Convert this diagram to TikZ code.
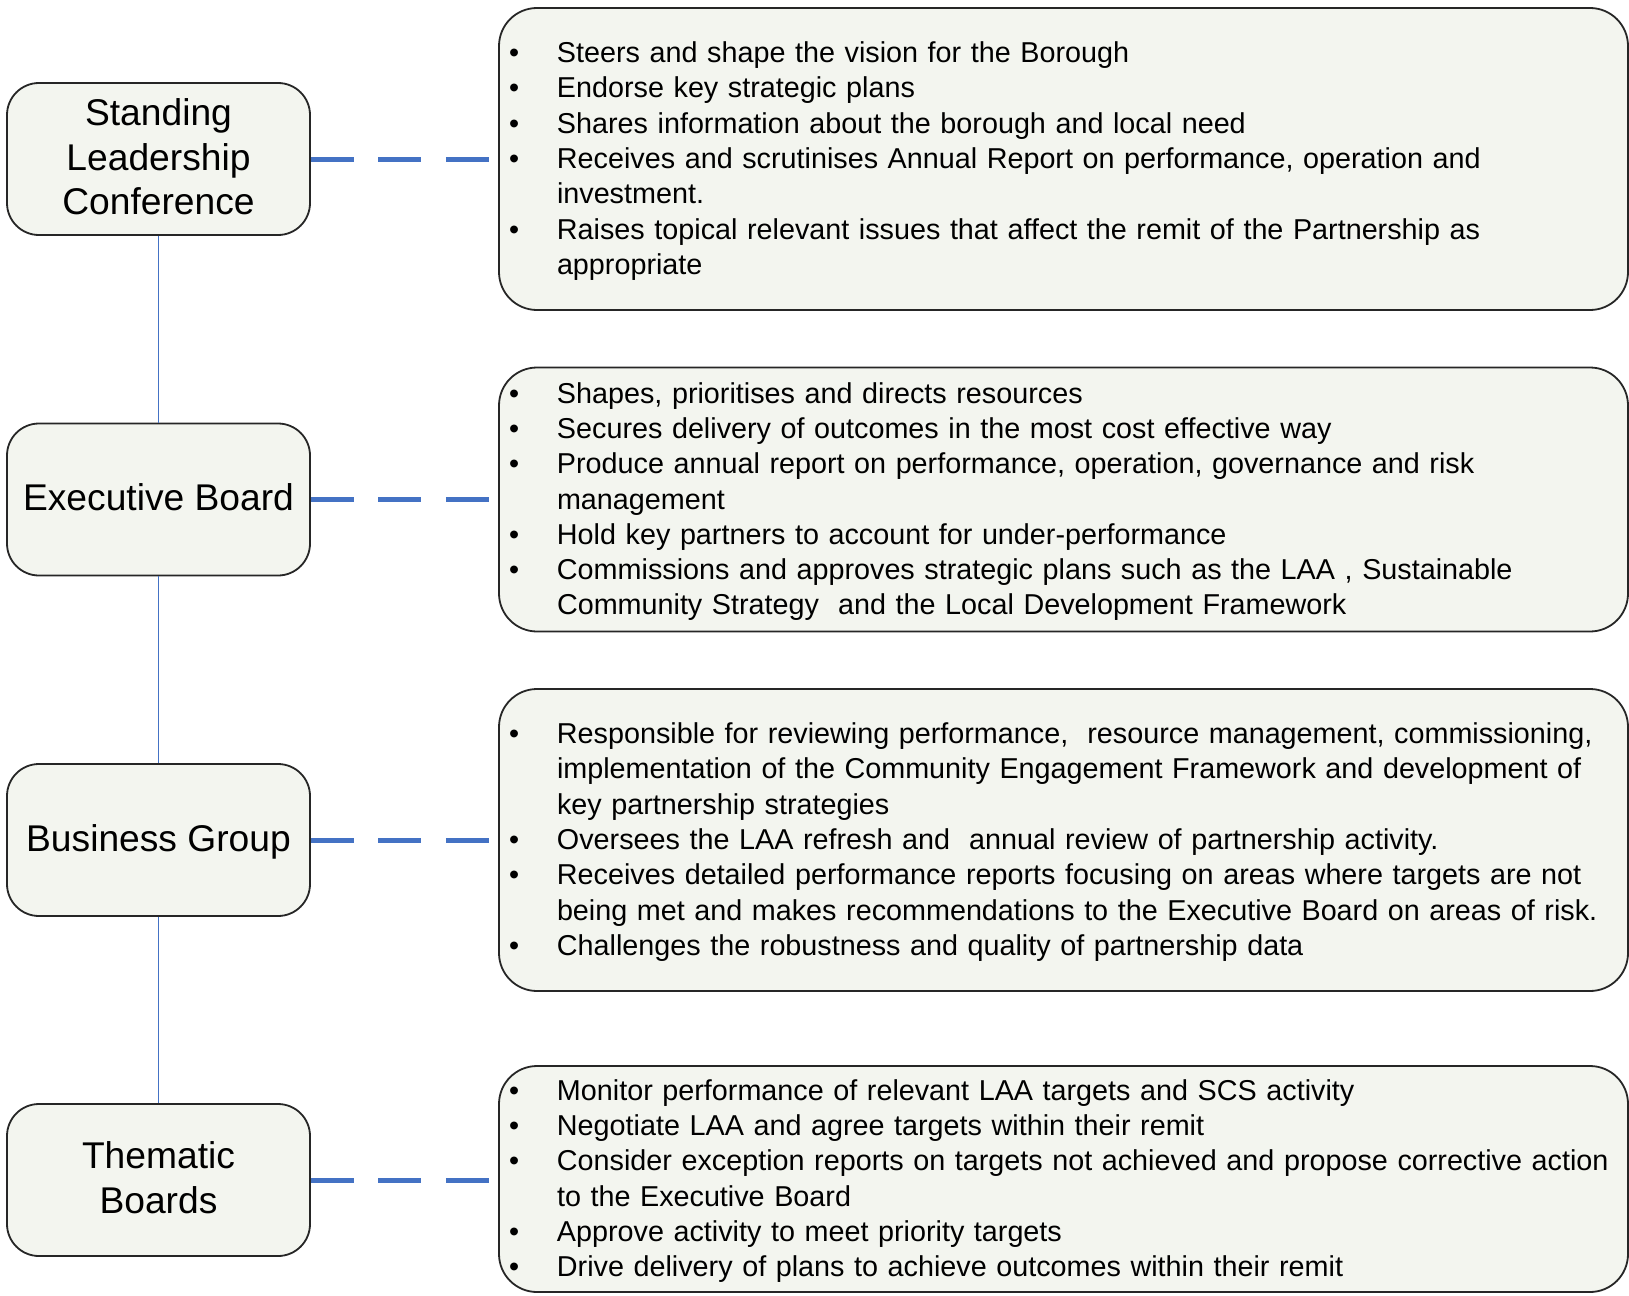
\documentclass[tikz,border=0pt]{standalone}
\usepackage{fontspec}
\setmainfont{Liberation Sans}
\definecolor{boxfill}{RGB}{243,245,239}
\definecolor{linkblue}{RGB}{68,114,196}
\newcommand{\lbfont}{\fontsize{37.2pt}{44.7pt}\selectfont}
\newcommand{\rbfont}{\fontsize{28.75pt}{35.3pt}\selectfont}
\newcommand{\bl}{\textbullet}
\newcommand{\dutylist}[1]{\raisebox{-2.5pt}[\height][\depth]{\begin{tabular}{@{}p{48pt}@{}l@{}}#1\end{tabular}}}
\newcommand{\rolelines}[1]{\raisebox{-2.2pt}[\height][\depth]{\begin{tabular}{@{}c@{}}#1\end{tabular}}}
\begin{document}
\begin{tikzpicture}[x=1pt,y=-1pt,
 rolebox/.style={draw=black!85, line width=1.8pt, fill=boxfill, rounded corners=32pt, minimum width=303pt, minimum height=152pt, align=center, font=\lbfont, inner sep=0pt},
 dutybox/.style={draw=black!85, line width=1.8pt, fill=boxfill, rounded corners=38pt, text width=1109pt, inner xsep=10pt, inner ysep=0pt, font=\rbfont},
 dashlink/.style={draw=linkblue, line width=5pt, dash pattern=on 43pt off 24.5pt},
 vlink/.style={draw=linkblue, line width=1.6pt}]
\useasboundingbox (0,0) rectangle (1629,1295);

\node[rolebox] (slc) at (158.5,159) {\rolelines{Standing\\Leadership\\Conference}};
\node[rolebox] (eb) at (158.5,499.5) {\rolelines{Executive Board}};
\node[rolebox] (bg) at (158.5,840) {\rolelines{Business Group}};
\node[rolebox] (tb) at (158.5,1180) {\rolelines{Thematic\\Boards}};

\node[dutybox, minimum height=302pt] (d1) at (1063.5,159) {\dutylist{%
\bl & Steers and shape the vision for the Borough\\
\bl & Endorse key strategic plans\\
\bl & Shares information about the borough and local need\\
\bl & Receives and scrutinises Annual Report on performance, operation and\\
 & investment.\\
\bl & Raises topical relevant issues that affect the remit of the Partnership as\\
 & appropriate\\}};

\node[dutybox, minimum height=264pt] (d2) at (1063.5,499.5) {\dutylist{%
\bl & Shapes, prioritises and directs resources\\
\bl & Secures delivery of outcomes in the most cost effective way\\
\bl & Produce annual report on performance, operation, governance and risk\\
 & management\\
\bl & Hold key partners to account for under-performance\\
\bl & Commissions and approves strategic plans such as the LAA , Sustainable\\
 & Community Strategy\ \ and the Local Development Framework\\}};

\node[dutybox, minimum height=302pt] (d3) at (1063.5,840) {\dutylist{%
\bl & Responsible for reviewing performance,\ \ resource management, commissioning,\\
 & implementation of the Community Engagement Framework and development of\\
 & key partnership strategies\\
\bl & Oversees the LAA refresh and\ \ annual review of partnership activity.\\
\bl & Receives detailed performance reports focusing on areas where targets are not\\
 & being met and makes recommendations to the Executive Board on areas of risk.\\
\bl & Challenges the robustness and quality of partnership data\\}};

\node[dutybox, minimum height=226pt] (d4) at (1063.5,1179) {\dutylist{%
\bl & Monitor performance of relevant LAA targets and SCS activity\\
\bl & Negotiate LAA and agree targets within their remit\\
\bl & Consider exception reports on targets not achieved and propose corrective action\\
 & to the Executive Board\\
\bl & Approve activity to meet priority targets\\
\bl & Drive delivery of plans to achieve outcomes within their remit\\}};

\draw[vlink] (slc.south) -- (eb.north);
\draw[vlink] (eb.south) -- (bg.north);
\draw[vlink] (bg.south) -- (tb.north);

\draw[dashlink] (slc.east) -- ([xshift=-9pt]slc.east -| d1.west);
\draw[dashlink] (eb.east) -- ([xshift=-9pt]eb.east -| d2.west);
\draw[dashlink] (bg.east) -- ([xshift=-9pt]bg.east -| d3.west);
\draw[dashlink] (tb.east) -- ([xshift=-9pt]tb.east -| d4.west);
\end{tikzpicture}
\end{document}
